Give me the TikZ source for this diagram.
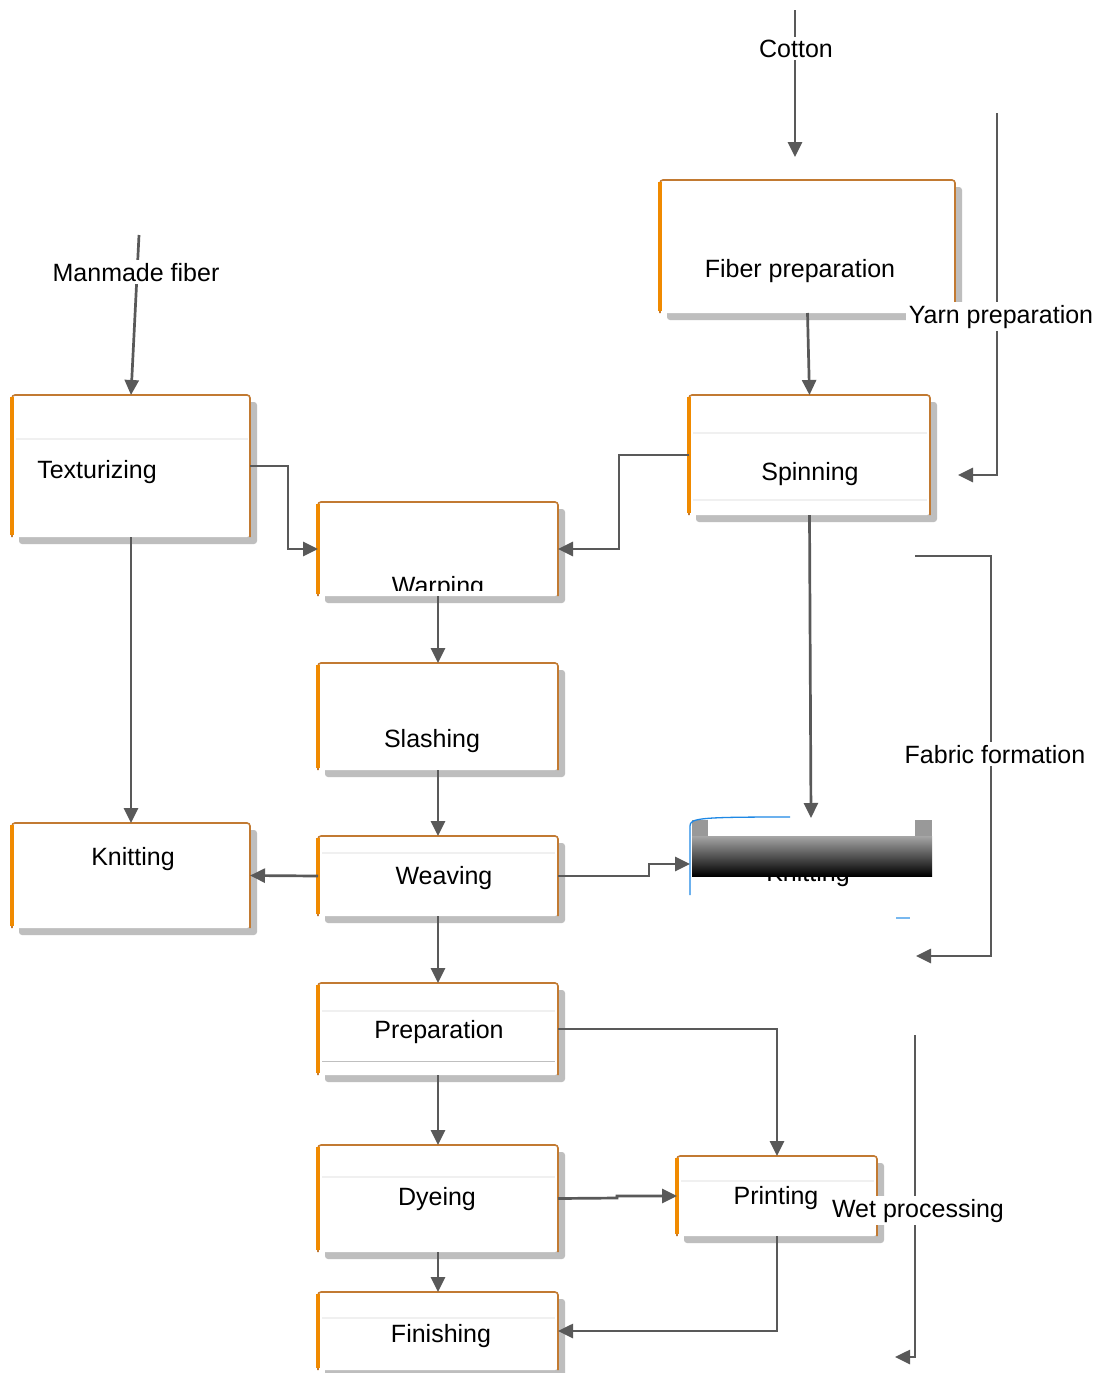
\documentclass[tikz,border=0pt]{standalone}
\usepackage{fontspec}
\setmainfont{Liberation Sans}
\usetikzlibrary{arrows.meta,shadows}
\definecolor{edgeC}{HTML}{C27A32}
\definecolor{leftC}{HTML}{F08A00}
\definecolor{lineC}{HTML}{595959}
\definecolor{shadC}{HTML}{BEBEBE}
\definecolor{blueC}{HTML}{1E88E5}
\newcommand\boxedges[1]{%
  \draw[edgeC, line width=1.6, rounded corners=3] (#1.south west) |- (#1.north east) -- (#1.south east);
  \draw[leftC, line width=3.4, shorten <=2, shorten >=2] (#1.south west) -- (#1.north west);}
\begin{document}
\begin{tikzpicture}[x=1pt,y=-1pt,
  pbox/.style={fill=white, draw=none, rounded corners=3, inner sep=0, outer sep=0,
    drop shadow={shadow xshift=7pt, shadow yshift=-7pt, fill=shadC, opacity=1}},
  lbl/.style={font=\fontsize{25}{30}\selectfont, anchor=base, inner sep=0},
  tag/.style={lbl, fill=white, inner sep=3pt},
  faint/.style={draw=black!6, line width=2},
  conn/.style={draw=lineC, line width=2.7, -{Triangle[length=15pt,width=14pt]}},
  plain/.style={draw=lineC, line width=2.7}]
\useasboundingbox (0,0) rectangle (1101,1373);
\fill[white] (0,0) rectangle (1101,1373);

% ---- boxes
\node[pbox, minimum width=295, minimum height=133] (fiber) at (807.5,246.5) {};
\node[pbox, minimum width=241, minimum height=120] (spin) at (809.5,455) {};
\node[pbox, minimum width=238, minimum height=142] (tex) at (131,466) {};
\node[pbox, minimum width=240, minimum height=94] (warp) at (438,549) {};
\node[pbox, minimum width=240, minimum height=107] (slash) at (438,716.5) {};
\node[pbox, minimum width=238, minimum height=105] (knitL) at (131,875.5) {};
\node[pbox, minimum width=240, minimum height=80] (weave) at (438,876) {};
\node[inner sep=0, outer sep=0, minimum width=242, minimum height=92] (knitR) at (811,864) {};
\node[pbox, minimum width=240, minimum height=92] (prep) at (438,1029) {};
\node[pbox, minimum width=240, minimum height=107] (dye) at (438,1198.5) {};
\node[pbox, minimum width=200, minimum height=80] (print) at (777,1196) {};
\node[pbox, minimum width=240, minimum height=78] (fin) at (438,1331) {};
\foreach \b in {fiber,spin,tex,warp,slash,knitL,weave,prep,dye,print,fin}{\boxedges{\b}}

% ---- faint inner bands
\draw[faint] (16,439) -- (248,439);
\draw[faint] (693,433) -- (927,433);
\draw[faint] (693,500) -- (927,500);
\draw[faint] (322,853) -- (555,853);
\draw[faint] (322,1011) -- (555,1011);
\draw[draw=black!25, line width=1] (322,1061) -- (555,1061);
\draw[faint] (322,1177) -- (555,1177);
\draw[faint] (681,1181) -- (874,1181);
\draw[faint] (322,1318) -- (555,1318);

% ---- box texts
\node[lbl] (fiberT) at (800,277) {Fiber preparation};
\node[lbl] (spinT) at (810,480) {Spinning};
\node[lbl] (texT) at (97,478) {Texturizing};
\begin{scope}
  \clip (318,502) rectangle (558,590);
  \node[lbl] (warpT) at (438,594) {Warping};
\end{scope}
\node[lbl] (slashT) at (432,747) {Slashing};
\node[lbl] (knitLT) at (133,865) {Knitting};
\node[lbl] (weaveT) at (444,884) {Weaving};
\node[lbl] (knitRT) at (808,881) {Knitting};
\node[lbl] (prepT) at (439,1038) {Preparation};
\node[lbl] (dyeT) at (437,1205) {Dyeing};
\node[lbl] (printT) at (776,1204) {Printing};
\node[lbl] (finT) at (441,1342) {Finishing};

% ---- broken rendering of the right Knitting box
\shade[top color=black!35, middle color=black!75, bottom color=black] (692,836) rectangle (932,876);
\fill[black!40] (692,820) rectangle (708,836);
\fill[black!40] (915,820) rectangle (932,836);
\draw[blueC, line width=1.3] (690,895) -- (690,826) .. controls (690,818) and (700,817) .. (790,817);
\draw[blueC!60, line width=1.2] (896,918) -- (910,918);

% ---- free ends
\coordinate (cottonTop) at (795,10);
\coordinate (cottonEnd) at (795,157);
\coordinate (manTop) at (139,235);
\coordinate (ypTop) at (997,113);
\coordinate (ypEnd) at (958,475);
\coordinate (ffTop) at (915,556);
\coordinate (ffEnd) at (916,956);
\coordinate (wpTop) at (915,1035);
\coordinate (wpEnd) at (895,1357);

% ---- connectors
\draw[conn] (cottonTop) -- (cottonEnd);
\draw[conn] (manTop) -- (tex.north);
\draw[conn] (fiber.south) -- (spin.north);
\draw[conn] (ypTop) |- (ypEnd);
\draw[conn] (tex.east) -- (288,466) |- (warp.west);
\draw[conn] (spin.west) -- (619,455) |- (warp.east);
\draw[conn] (tex.south) -- (knitL.north);
\draw[conn] (warp.south) -- (slash.north);
\draw[conn] (slash.south) -- (weave.north);
\draw[conn] (weave.west) -- (knitL.east);
\draw[conn] (weave.east) -- (649,876) -- (649,864) -- (knitR.west);
\draw[conn] (spin.south) -- (knitR.north);
\draw[conn] (ffTop) -- (991,556) |- (ffEnd);
\draw[conn] (weave.south) -- (prep.north);
\draw[conn] (prep.east) -| (print.north);
\draw[conn] (prep.south) -- (dye.north);
\draw[conn] (dye.east) -- (617,1198) -- (617,1196) -- (print.west);
\draw[conn] (dye.south) -- (fin.north);
\draw[conn] (print.south) |- (fin.east);
\draw[conn] (wpTop) |- (wpEnd);

% ---- labels on lines
\node[tag] (cotton) at (796,57) {Cotton};
\node[tag] (manmade) at (136,281) {Manmade fiber};
\node[tag] (yarn) at (1001,323) {Yarn preparation};
\node[tag] (fabric) at (995,763) {Fabric formation};
\node[tag] (wet) at (918,1217) {Wet processing};
\end{tikzpicture}
\end{document}
